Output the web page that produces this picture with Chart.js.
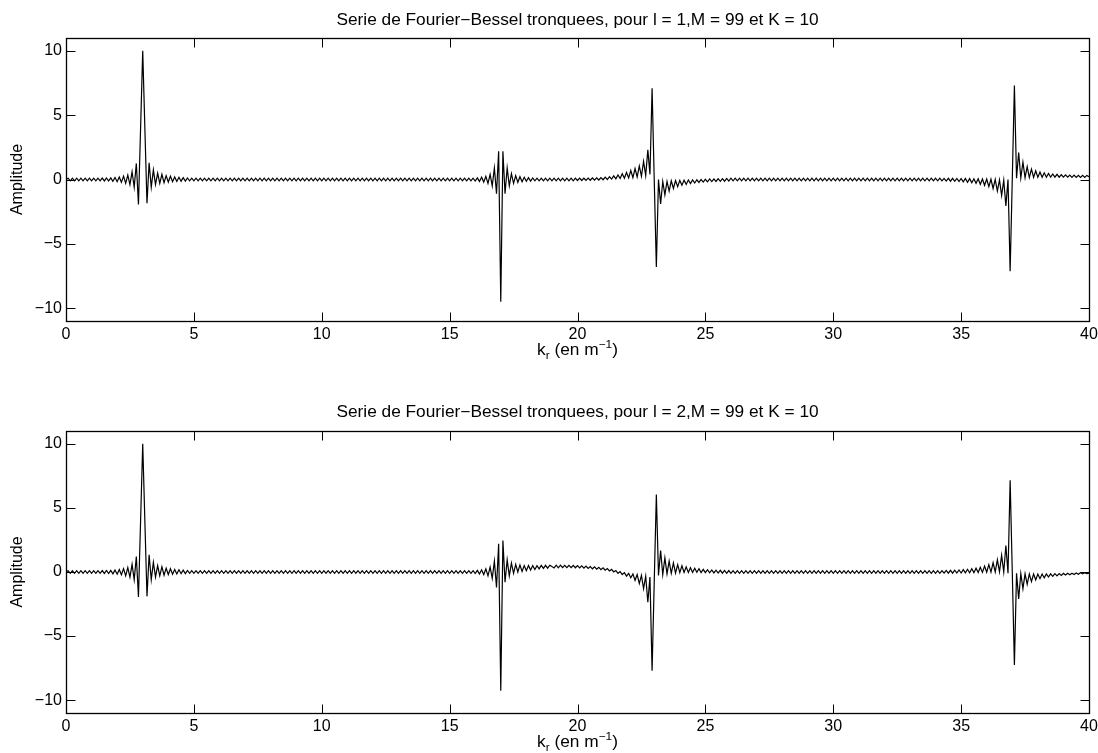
<!DOCTYPE html>
<html>
<head>
<meta charset="utf-8">
<title>Serie de Fourier-Bessel tronquees</title>
<script src="https://cdn.jsdelivr.net/npm/chart.js@4.4.1/dist/chart.umd.min.js"></script>
<style>
    html, body { margin: 0; padding: 0; background: #fff; overflow: hidden; }
    #wrap { position: relative; width: 1098px; height: 753px; }
    .panel { position: absolute; left: 0; width: 1098px; }
    #panelL1 { top: 0; height: 376px; }
    #panelL2 { top: 392px; height: 361px; }
</style>
</head>
<body>
<div id="wrap">
    <div class="panel" id="panelL1"><canvas id="chartL1" width="1098" height="376"></canvas></div>
    <div class="panel" id="panelL2"><canvas id="chartL2" width="1098" height="361"></canvas></div>
</div>
<script>
// k_r sampling: one value every 1/12 m^-1, from 0 to 40
const krStep = 1 / 12;
const krTicks = [0, 5, 10, 15, 20, 25, 30, 35, 40];
const ampTicks = [-10, -5, 0, 5, 10];

const titleL1 = 'Serie de Fourier\u2212Bessel tronquees, pour l = 1,M = 99 et K = 10';
const titleL2 = 'Serie de Fourier\u2212Bessel tronquees, pour l = 2,M = 99 et K = 10';

// amplitude (l = 1), one row per unit of k_r
const ampL1 = [
    0, 0.1, -0.1, 0.1, -0.1, 0.1, -0.1, 0.1, -0.1, 0.1, -0.1, 0.1,
    -0.1, 0.1, -0.1, 0.1, -0.1, 0.11, -0.11, 0.12, -0.12, 0.13, -0.14, 0.15,
    -0.17, 0.2, -0.22, 0.26, -0.3, 0.34, -0.4, 0.6, -0.6, 1.25, -1.95, 4,
    10, 4, -1.85, 1.3, -0.6, 0.75, -0.4, 0.5, -0.3, 0.4, -0.25, 0.3,
    -0.2, 0.25, -0.17, 0.2, -0.15, 0.17, -0.13, 0.15, -0.12, 0.12, -0.1, 0.1,
    -0.1, 0.1, -0.1, 0.1, -0.1, 0.1, -0.1, 0.1, -0.1, 0.1, -0.1, 0.1,
    -0.1, 0.1, -0.1, 0.1, -0.1, 0.1, -0.1, 0.1, -0.1, 0.1, -0.1, 0.1,
    -0.1, 0.1, -0.1, 0.1, -0.1, 0.1, -0.1, 0.1, -0.1, 0.1, -0.1, 0.1,
    -0.1, 0.1, -0.1, 0.1, -0.1, 0.1, -0.1, 0.1, -0.1, 0.1, -0.1, 0.1,
    -0.1, 0.1, -0.1, 0.1, -0.1, 0.1, -0.1, 0.1, -0.1, 0.1, -0.1, 0.1,
    -0.1, 0.1, -0.1, 0.1, -0.1, 0.1, -0.1, 0.1, -0.1, 0.1, -0.1, 0.1,
    -0.1, 0.1, -0.1, 0.1, -0.1, 0.1, -0.1, 0.1, -0.1, 0.1, -0.1, 0.1,
    -0.1, 0.1, -0.1, 0.1, -0.1, 0.1, -0.1, 0.1, -0.1, 0.1, -0.1, 0.1,
    -0.1, 0.1, -0.1, 0.1, -0.1, 0.1, -0.1, 0.1, -0.1, 0.1, -0.1, 0.1,
    -0.1, 0.1, -0.1, 0.1, -0.1, 0.1, -0.1, 0.1, -0.1, 0.1, -0.1, 0.1,
    -0.1, 0.1, -0.1, 0.1, -0.1, 0.1, -0.1, 0.1, -0.1, 0.1, -0.1, 0.1,
    -0.12, 0.13, -0.15, 0.18, -0.2, 0.25, -0.3, 0.4, -0.5, 0.9, -1.1, 2.2,
    -9.5, 2.2, -1.1, 0.9, -0.5, 0.45, -0.3, 0.3, -0.22, 0.22, -0.17, 0.17,
    -0.14, 0.14, -0.12, 0.12, -0.1, 0.1, -0.1, 0.1, -0.1, 0.1, -0.1, 0.1,
    -0.1, 0.1, -0.1, 0.1, -0.1, 0.1, -0.1, 0.1, -0.1, 0.1, -0.1, 0.1,
    -0.08, 0.1, -0.08, 0.1, -0.07, 0.11, -0.06, 0.12, -0.05, 0.13, -0.04, 0.15,
    -0.02, 0.18, 0, 0.22, 0.03, 0.28, 0.05, 0.35, 0.08, 0.45, 0.1, 0.55,
    0.12, 0.7, 0.15, 0.85, 0.2, 1.05, 0.25, 1.4, 0.3, 2.3, 0.4, 7.1,
    0, -6.8, 0, -1.9, -0.15, -1.2, -0.15, -0.9, -0.1, -0.7, -0.08, -0.55,
    -0.07, -0.45, -0.05, -0.38, -0.04, -0.32, -0.03, -0.27, -0.02, -0.23, 0, -0.2,
    0.02, -0.18, 0.04, -0.16, 0.05, -0.15, 0.06, -0.14, 0.07, -0.13, 0.08, -0.12,
    0.1, -0.1, 0.1, -0.1, 0.1, -0.1, 0.1, -0.1, 0.1, -0.1, 0.1, -0.1,
    0.1, -0.1, 0.1, -0.1, 0.1, -0.1, 0.1, -0.1, 0.1, -0.1, 0.1, -0.1,
    0.1, -0.1, 0.1, -0.1, 0.1, -0.1, 0.1, -0.1, 0.1, -0.1, 0.1, -0.1,
    0.1, -0.1, 0.1, -0.1, 0.1, -0.1, 0.1, -0.1, 0.1, -0.1, 0.1, -0.1,
    0.1, -0.1, 0.1, -0.1, 0.1, -0.1, 0.1, -0.1, 0.1, -0.1, 0.1, -0.1,
    0.1, -0.1, 0.1, -0.1, 0.1, -0.1, 0.1, -0.1, 0.1, -0.1, 0.1, -0.1,
    0.1, -0.1, 0.1, -0.1, 0.1, -0.1, 0.1, -0.1, 0.1, -0.1, 0.1, -0.1,
    0.1, -0.1, 0.1, -0.1, 0.1, -0.1, 0.1, -0.1, 0.1, -0.1, 0.1, -0.1,
    0.1, -0.1, 0.1, -0.11, 0.09, -0.12, 0.09, -0.13, 0.09, -0.14, 0.08, -0.16,
    0.08, -0.18, 0.08, -0.21, 0.07, -0.25, 0.06, -0.3, 0.05, -0.37, 0.04, -0.45,
    0.03, -0.55, 0.02, -0.7, 0, -0.9, -0.03, -1.25, -0.05, -2.06, 0, -7.14,
    0, 7.3, 0.1, 2.1, 0.12, 1.35, 0.14, 1.0, 0.15, 0.8, 0.16, 0.68,
    0.17, 0.58, 0.17, 0.52, 0.18, 0.47, 0.18, 0.43, 0.18, 0.4, 0.18, 0.38,
    0.18, 0.36, 0.18, 0.35, 0.17, 0.34, 0.17, 0.33, 0.17, 0.33, 0.16, 0.32,
    0.22
];

// amplitude (l = 2)
const ampL2 = [
    0, 0.1, -0.1, 0.1, -0.1, 0.1, -0.1, 0.1, -0.1, 0.1, -0.1, 0.1,
    -0.1, 0.1, -0.1, 0.1, -0.1, 0.11, -0.11, 0.12, -0.12, 0.13, -0.14, 0.15,
    -0.17, 0.2, -0.22, 0.26, -0.3, 0.34, -0.4, 0.6, -0.6, 1.2, -1.95, 4,
    10, 4, -1.9, 1.35, -0.6, 0.75, -0.4, 0.5, -0.3, 0.4, -0.25, 0.3,
    -0.2, 0.25, -0.17, 0.2, -0.15, 0.17, -0.13, 0.15, -0.12, 0.12, -0.1, 0.1,
    -0.1, 0.1, -0.1, 0.1, -0.1, 0.1, -0.1, 0.1, -0.1, 0.1, -0.1, 0.1,
    -0.1, 0.1, -0.1, 0.1, -0.1, 0.1, -0.1, 0.1, -0.1, 0.1, -0.1, 0.1,
    -0.1, 0.1, -0.1, 0.1, -0.1, 0.1, -0.1, 0.1, -0.1, 0.1, -0.1, 0.1,
    -0.1, 0.1, -0.1, 0.1, -0.1, 0.1, -0.1, 0.1, -0.1, 0.1, -0.1, 0.1,
    -0.1, 0.1, -0.1, 0.1, -0.1, 0.1, -0.1, 0.1, -0.1, 0.1, -0.1, 0.1,
    -0.1, 0.1, -0.1, 0.1, -0.1, 0.1, -0.1, 0.1, -0.1, 0.1, -0.1, 0.1,
    -0.1, 0.1, -0.1, 0.1, -0.1, 0.1, -0.1, 0.1, -0.1, 0.1, -0.1, 0.1,
    -0.1, 0.1, -0.1, 0.1, -0.1, 0.1, -0.1, 0.1, -0.1, 0.1, -0.1, 0.1,
    -0.1, 0.1, -0.1, 0.1, -0.1, 0.1, -0.1, 0.1, -0.1, 0.1, -0.1, 0.1,
    -0.1, 0.1, -0.1, 0.1, -0.1, 0.1, -0.1, 0.1, -0.1, 0.1, -0.1, 0.1,
    -0.1, 0.1, -0.1, 0.1, -0.1, 0.1, -0.1, 0.1, -0.1, 0.1, -0.1, 0.1,
    -0.12, 0.13, -0.15, 0.17, -0.2, 0.24, -0.3, 0.38, -0.5, 0.85, -1.2, 2.2,
    -9.26, 2.46, -0.8, 0.95, -0.3, 0.7, -0.1, 0.6, 0, 0.55, 0.05, 0.5,
    0.1, 0.5, 0.15, 0.5, 0.2, 0.5, 0.25, 0.52, 0.28, 0.52, 0.3, 0.53,
    0.42, 0.32, 0.53, 0.33, 0.53, 0.34, 0.52, 0.34, 0.52, 0.34, 0.51, 0.33,
    0.5, 0.32, 0.48, 0.3, 0.46, 0.28, 0.43, 0.25, 0.4, 0.22, 0.37, 0.18,
    0.33, 0.14, 0.27, 0.08, 0.2, 0, 0.12, -0.1, 0.03, -0.2, -0.05, -0.32,
    -0.1, -0.45, -0.15, -0.65, -0.2, -0.9, -0.27, -1.3, -0.33, -2.36, -0.4, -7.7,
    -0.8, 6.05, -0.27, 1.68, -0.2, 1.1, -0.15, 0.85, -0.1, 0.7, -0.08, 0.58,
    -0.05, 0.48, -0.04, 0.4, -0.03, 0.34, -0.03, 0.29, -0.03, 0.25, -0.04, 0.21,
    -0.05, 0.18, -0.06, 0.16, -0.07, 0.14, -0.08, 0.13, -0.09, 0.12, -0.1, 0.11,
    -0.1, 0.1, -0.1, 0.1, -0.1, 0.1, -0.1, 0.1, -0.1, 0.1, -0.1, 0.1,
    -0.1, 0.1, -0.1, 0.1, -0.1, 0.1, -0.1, 0.1, -0.1, 0.1, -0.1, 0.1,
    -0.1, 0.1, -0.1, 0.1, -0.1, 0.1, -0.1, 0.1, -0.1, 0.1, -0.1, 0.1,
    -0.1, 0.1, -0.1, 0.1, -0.1, 0.1, -0.1, 0.1, -0.1, 0.1, -0.1, 0.1,
    -0.1, 0.1, -0.1, 0.1, -0.1, 0.1, -0.1, 0.1, -0.1, 0.1, -0.1, 0.1,
    -0.1, 0.1, -0.1, 0.1, -0.1, 0.1, -0.1, 0.1, -0.1, 0.1, -0.1, 0.1,
    -0.1, 0.1, -0.1, 0.1, -0.1, 0.1, -0.1, 0.1, -0.1, 0.1, -0.1, 0.1,
    -0.1, 0.1, -0.1, 0.1, -0.1, 0.1, -0.1, 0.1, -0.1, 0.1, -0.1, 0.1,
    -0.1, 0.1, -0.1, 0.11, -0.09, 0.12, -0.09, 0.13, -0.09, 0.14, -0.08, 0.16,
    -0.08, 0.18, -0.07, 0.21, -0.06, 0.25, -0.05, 0.3, -0.04, 0.37, -0.03, 0.46,
    -0.02, 0.57, -0.01, 0.72, 0, 0.95, 0.01, 1.3, 0, 2.07, -0.1, 7.15,
    0, -7.25, -0.1, -2.1, -0.12, -1.3, -0.14, -0.95, -0.15, -0.75, -0.16, -0.62,
    -0.16, -0.52, -0.16, -0.45, -0.15, -0.39, -0.14, -0.34, -0.13, -0.3, -0.12, -0.27,
    -0.11, -0.24, -0.1, -0.21, -0.09, -0.19, -0.08, -0.17, -0.06, -0.15, -0.05, -0.13,
    -0.08
];

const FONT = '"Liberation Sans", Arial, Helvetica, sans-serif';
const TICK_LEN = 9;
const TEXT_STRETCH = 1.08;

// MATLAB-like box, inward ticks on all four sides, title and axis labels
const matlabAxes = {
    id: 'matlabAxes',
    afterDraw(chart, args, opts) {
        const { ctx, chartArea: a } = chart;
        const xs = chart.scales.x;
        const ys = chart.scales.y;
        const L = Math.round(a.left) + 0.5;
        const R = Math.round(a.right) + 0.5;
        const T = Math.round(a.top) + 0.5;
        const B = Math.round(a.bottom) + 0.5;
        const cx = (a.left + a.right) / 2;

        ctx.save();
        ctx.strokeStyle = '#000';
        ctx.lineWidth = 1;
        ctx.beginPath();
        xs.ticks.forEach(t => {
            const px = Math.round(xs.getPixelForValue(t.value)) + 0.5;
            ctx.moveTo(px, B); ctx.lineTo(px, B - TICK_LEN);
            ctx.moveTo(px, T); ctx.lineTo(px, T + TICK_LEN);
        });
        ys.ticks.forEach(t => {
            const py = Math.round(ys.getPixelForValue(t.value)) + 0.5;
            ctx.moveTo(L, py); ctx.lineTo(L + TICK_LEN, py);
            ctx.moveTo(R, py); ctx.lineTo(R - TICK_LEN, py);
        });
        ctx.stroke();
        ctx.lineWidth = 1.3;
        ctx.strokeRect(L, T, R - L, B - T);

        ctx.fillStyle = '#000';
        ctx.textBaseline = 'alphabetic';

        // title
        ctx.save();
        ctx.translate(cx, opts.titleY);
        ctx.scale(TEXT_STRETCH, 1);
        ctx.font = '16px ' + FONT;
        ctx.textAlign = 'center';
        ctx.fillText(opts.title, 0, 0);
        ctx.restore();

        // y label
        ctx.save();
        ctx.translate(22, (a.top + a.bottom) / 2);
        ctx.rotate(-Math.PI / 2);
        ctx.font = '16px ' + FONT;
        ctx.textAlign = 'center';
        ctx.fillText('Amplitude', 0, 0);
        ctx.restore();

        // x label: k_r (en m^-1)
        const parts = [
            { t: 'k', size: 16, dy: 0 },
            { t: 'r', size: 11, dy: 4 },
            { t: ' (en m', size: 16, dy: 0 },
            { t: '\u22121', size: 11, dy: -7 },
            { t: ')', size: 16, dy: 0 }
        ];
        let total = 0;
        parts.forEach(p => {
            ctx.font = p.size + 'px ' + FONT;
            p.w = ctx.measureText(p.t).width;
            total += p.w;
        });
        ctx.save();
        ctx.translate(cx, opts.xLabelY);
        ctx.scale(TEXT_STRETCH, 1);
        ctx.textAlign = 'left';
        let x = -total / 2;
        parts.forEach(p => {
            ctx.font = p.size + 'px ' + FONT;
            ctx.fillText(p.t, x, p.dy);
            x += p.w;
        });
        ctx.restore();

        ctx.restore();
    }
};

function buildChart(canvasId, values, title, padTop, xAxisHeight) {
    const ctx = document.getElementById(canvasId);
    if (!ctx) return null;

    return new Chart(ctx, {
        type: 'line',
        data: {
            datasets: [{
                data: values.map((v, i) => ({ x: i * krStep, y: v })),
                borderColor: '#000',
                borderWidth: 1.2,
                pointRadius: 0,
                tension: 0,
                fill: false
            }]
        },
        options: {
            responsive: false,
            animation: false,
            events: [],
            layout: {
                padding: { top: padTop, right: 9, left: 0, bottom: 0 }
            },
            plugins: {
                legend: { display: false },
                tooltip: { enabled: false },
                matlabAxes: { title: title, titleY: 25, xLabelY: 355 }
            },
            scales: {
                x: {
                    type: 'linear',
                    min: 0,
                    max: 40,
                    afterBuildTicks: s => { s.ticks = krTicks.map(v => ({ value: v })); },
                    afterFit: s => {
                        s.height = xAxisHeight;
                        s.paddingLeft = 0;
                        s.paddingRight = 0;
                    },
                    grid: { display: false, drawTicks: false },
                    border: { display: false },
                    ticks: {
                        color: '#000',
                        font: { family: FONT, size: 16 },
                        padding: 4,
                        maxRotation: 0,
                        autoSkip: false
                    }
                },
                y: {
                    type: 'linear',
                    min: -11,
                    max: 11,
                    afterBuildTicks: s => { s.ticks = ampTicks.map(v => ({ value: v })); },
                    afterFit: s => {
                        s.width = 66;
                        s.paddingTop = 0;
                        s.paddingBottom = 0;
                    },
                    grid: { display: false, drawTicks: false },
                    border: { display: false },
                    ticks: {
                        color: '#000',
                        font: { family: FONT, size: 16 },
                        padding: 4,
                        callback: v => String(v).replace('-', '\u2212')
                    }
                }
            }
        },
        plugins: [matlabAxes]
    });
}

buildChart('chartL1', ampL1, titleL1, 38, 55);
buildChart('chartL2', ampL2, titleL2, 39, 40);
</script>
</body>
</html>
